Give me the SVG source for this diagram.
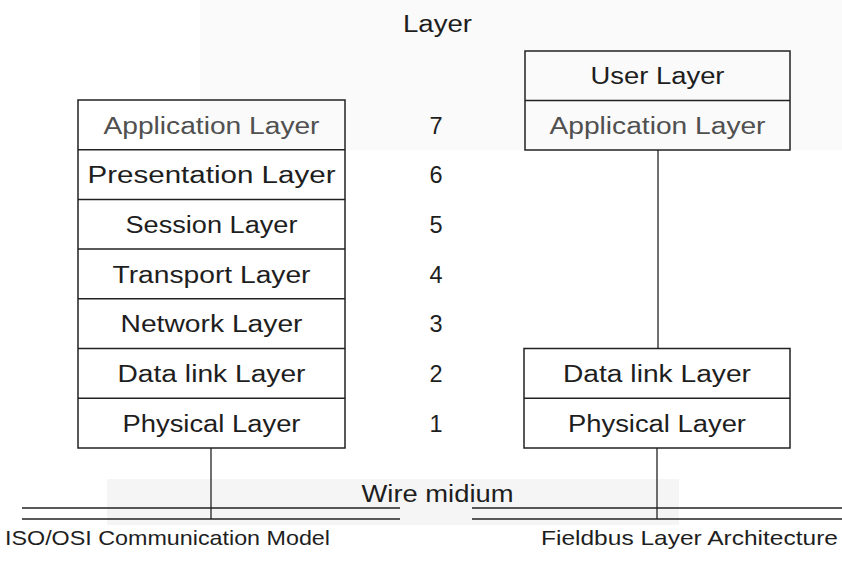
<svg xmlns="http://www.w3.org/2000/svg" width="842" height="582" viewBox="0 0 842 582">
  <style>
    .box { fill: none; stroke: #222; stroke-width: 1.5; }
    .sep { stroke: #222; stroke-width: 1.5; }
    .lbl { font-family: "Liberation Sans", Arial, sans-serif; font-size: 23.5px; fill: #1e1e1e; text-anchor: middle; }
    .dim { fill: #505050; }
    .num { font-family: "Liberation Sans", Arial, sans-serif; font-size: 23.5px; fill: #1e1e1e; text-anchor: middle; }
    .cap { font-family: "Liberation Sans", Arial, sans-serif; font-size: 21px; fill: #1e1e1e; }
    .wire { stroke: #222; stroke-width: 1.5; fill: none; }
    .link { stroke: #222; stroke-width: 1.3; fill: none; }
  </style>

  <rect width="842" height="582" fill="#ffffff"/>
  <!-- faint paper tint -->
  <rect x="200" y="0" width="642" height="150" fill="#fafafa"/>
  <rect x="107" y="479" width="572" height="46" fill="#f5f5f5"/>

  <!-- column heading -->
  <text class="lbl" x="437.5" y="32" textLength="69" lengthAdjust="spacingAndGlyphs">Layer</text>

  <!-- ISO/OSI seven-layer stack -->
  <g id="osi-stack">
    <rect class="box" x="78" y="100" width="267" height="348"/>
    <line class="sep" x1="78" y1="149.7" x2="345" y2="149.7"/>
    <line class="sep" x1="78" y1="199.4" x2="345" y2="199.4"/>
    <line class="sep" x1="78" y1="249.1" x2="345" y2="249.1"/>
    <line class="sep" x1="78" y1="298.8" x2="345" y2="298.8"/>
    <line class="sep" x1="78" y1="348.5" x2="345" y2="348.5"/>
    <line class="sep" x1="78" y1="398.2" x2="345" y2="398.2"/>
    <text class="lbl dim" x="211.5" y="133.5" textLength="216" lengthAdjust="spacingAndGlyphs">Application Layer</text>
    <text class="lbl" x="211.5" y="183.2" textLength="248" lengthAdjust="spacingAndGlyphs">Presentation Layer</text>
    <text class="lbl" x="211.5" y="232.9" textLength="172" lengthAdjust="spacingAndGlyphs">Session Layer</text>
    <text class="lbl" x="211.5" y="282.6" textLength="198" lengthAdjust="spacingAndGlyphs">Transport Layer</text>
    <text class="lbl" x="211.5" y="332.3" textLength="182" lengthAdjust="spacingAndGlyphs">Network Layer</text>
    <text class="lbl" x="211.5" y="382" textLength="188" lengthAdjust="spacingAndGlyphs">Data link Layer</text>
    <text class="lbl" x="211.5" y="431.7" textLength="178" lengthAdjust="spacingAndGlyphs">Physical Layer</text>
  </g>

  <!-- layer numbers -->
  <g id="layer-numbers">
    <text class="num" x="436" y="133.5">7</text>
    <text class="num" x="436" y="183.2">6</text>
    <text class="num" x="436" y="232.9">5</text>
    <text class="num" x="436" y="282.6">4</text>
    <text class="num" x="436" y="332.3">3</text>
    <text class="num" x="436" y="382">2</text>
    <text class="num" x="436" y="431.7">1</text>
  </g>

  <!-- Fieldbus upper layers -->
  <g id="fieldbus-upper">
    <rect class="box" x="525" y="51" width="265" height="99"/>
    <line class="sep" x1="525" y1="100.5" x2="790" y2="100.5"/>
    <text class="lbl" x="657.5" y="84" textLength="134" lengthAdjust="spacingAndGlyphs">User Layer</text>
    <text class="lbl dim" x="657.5" y="133.5" textLength="216" lengthAdjust="spacingAndGlyphs">Application Layer</text>
  </g>

  <!-- Fieldbus lower layers -->
  <g id="fieldbus-lower">
    <rect class="box" x="524" y="348.5" width="266" height="99.5"/>
    <line class="sep" x1="524" y1="398.2" x2="790" y2="398.2"/>
    <text class="lbl" x="657" y="382" textLength="188" lengthAdjust="spacingAndGlyphs">Data link Layer</text>
    <text class="lbl" x="657" y="431.7" textLength="178" lengthAdjust="spacingAndGlyphs">Physical Layer</text>
  </g>

  <!-- wire medium -->
  <g id="wire-medium">
    <line class="wire" x1="22" y1="508" x2="400" y2="508"/>
    <line class="wire" x1="22" y1="519" x2="400" y2="519"/>
    <line class="wire" x1="472" y1="508" x2="842" y2="508"/>
    <line class="wire" x1="472" y1="519" x2="842" y2="519"/>
    <text class="lbl" x="437.5" y="502" textLength="152" lengthAdjust="spacingAndGlyphs">Wire midium</text>
  </g>

  <!-- connectors -->
  <g id="connectors">
    <line class="link" x1="658" y1="150" x2="658" y2="348.5"/>
    <line class="link" x1="211" y1="448" x2="211" y2="519"/>
    <line class="link" x1="657" y1="448" x2="657" y2="519"/>
  </g>

  <!-- captions -->
  <text class="cap" x="5" y="545" textLength="325" lengthAdjust="spacingAndGlyphs">ISO/OSI Communication Model</text>
  <text class="cap" x="541" y="545" textLength="297" lengthAdjust="spacingAndGlyphs">Fieldbus Layer Architecture</text>
</svg>
